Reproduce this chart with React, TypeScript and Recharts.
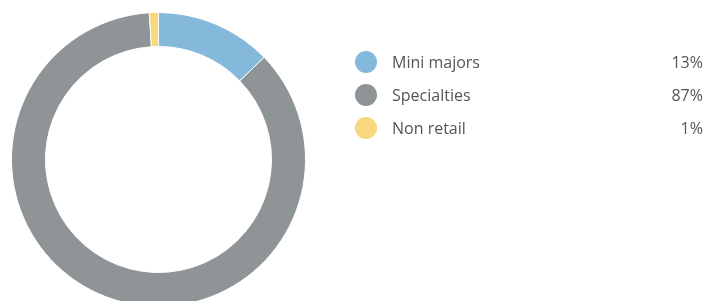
import { PieChart, Pie, Cell } from "recharts";

const categories = ["Mini majors", "Specialties", "Non retail"];
const shares = [12.8, 86.5, 1.0];
const colors = ["#85b9db", "#8f9496", "#f7d87c"];

const data = categories.map((name, i) => ({ name, value: shares[i], color: colors[i] }));

export default function App() {
  return (
    <div
      style={{
        position: "fixed",
        left: 0,
        top: 0,
        width: 704,
        height: 301,
        overflow: "hidden",
        fontFamily: "'Open Sans', sans-serif",
      }}
    >
      <PieChart width={320} height={320} style={{ position: "absolute", left: 0, top: 0 }}>
        <Pie
          data={data}
          dataKey="value"
          cx={153.5}
          cy={154.5}
          innerRadius={113}
          outerRadius={147}
          startAngle={90}
          endAngle={-270}
          stroke="#fff"
          strokeWidth={1}
          isAnimationActive={false}
        >
          {data.map((d, i) => (
            <Cell key={i} fill={d.color} />
          ))}
        </Pie>
      </PieChart>
      {/* Legend */}
      <div style={{ position: "absolute", left: 355, top: 45, width: 348 }}>
        {data.map((d) => (
          <div
            key={d.name}
            style={{ display: "flex", alignItems: "center", height: 33, fontSize: 16, color: "#555" }}
          >
            <div
              style={{ width: 22, height: 22, borderRadius: "50%", backgroundColor: d.color, flexShrink: 0 }}
            />
            <span style={{ marginLeft: 15, flex: 1 }}>{d.name}</span>
            <span>{Math.round(d.value)}%</span>
          </div>
        ))}
      </div>
    </div>
  );
}
